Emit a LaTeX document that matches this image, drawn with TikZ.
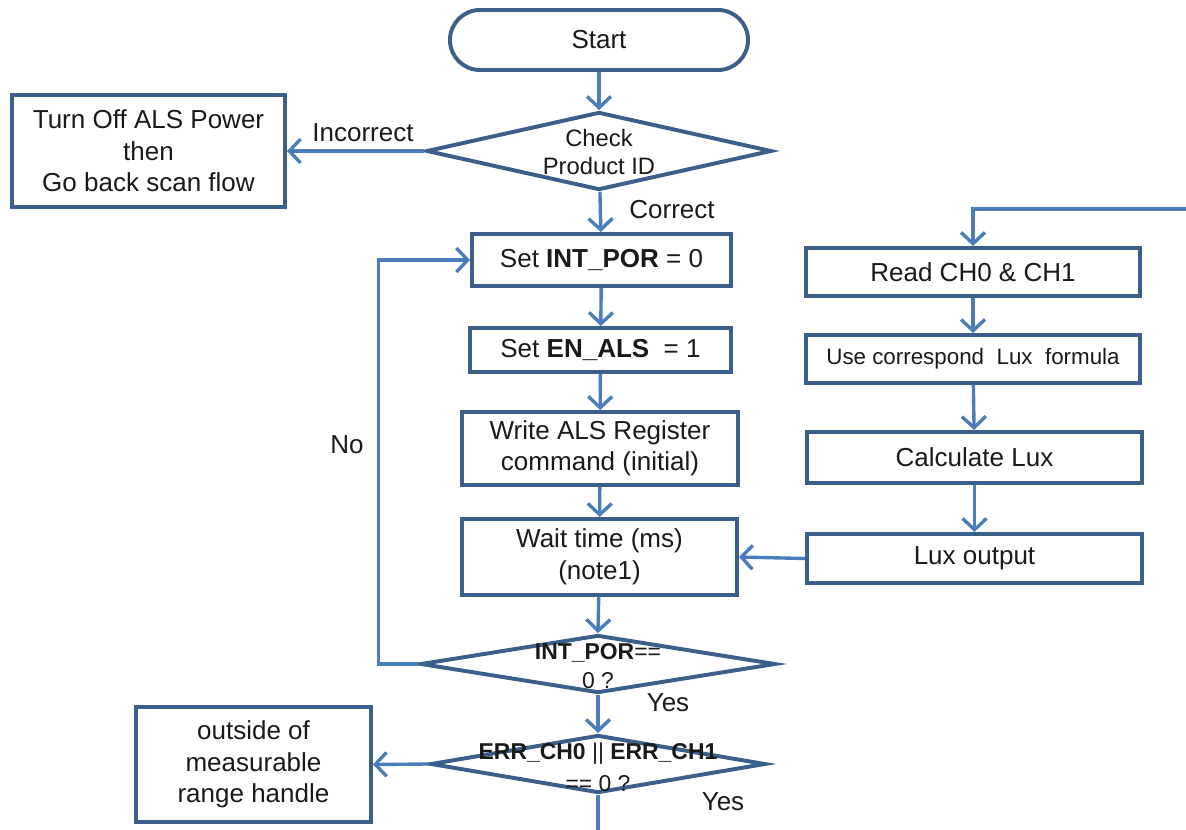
\documentclass[tikz,border=0pt]{standalone}
\usepackage{fontspec}
\setmainfont{Liberation Sans}
\usepackage{tikz}
\usetikzlibrary{arrows.meta, shapes.geometric}
\definecolor{boxblue}{RGB}{58,95,139}
\definecolor{lineblue}{RGB}{74,126,187}
\definecolor{ink}{RGB}{26,26,26}

\begin{document}
\begin{tikzpicture}[x=0.025cm, y=-0.025cm,
  box/.style={draw=boxblue, line width=2.8pt, fill=white, text=ink, align=center, inner sep=0pt,
    font=\fontsize{18.5}{22.4}\selectfont},
  decision/.style={diamond, draw=boxblue, line width=2.8pt, fill=white, inner sep=0pt},
  dtext/.style={text=ink, align=center, inner sep=0pt},
  flow/.style={draw=lineblue, line width=2.4pt, -{Straight Barb[length=8pt, width=17pt]}},
  tag/.style={text=ink, inner sep=0pt, font=\fontsize{18.5}{22.4}\selectfont}]
  \useasboundingbox (0,0) rectangle (1186,830);

  \node[box, rounded corners=0.75cm, minimum width=7.45cm, minimum height=1.5cm] (start) at (599,40) {Start};
  \node[decision, minimum width=8.625cm, minimum height=1.95cm] (chk) at (599,151) {};
  \node[dtext, font=\fontsize{16.9}{20.6}\selectfont] (chkt) at (599,152) {Check\\Product ID};
  \node[box, minimum width=6.825cm, minimum height=2.8cm] (off) at (148.5,151) {Turn Off ALS Power\\then\\Go back scan flow};

  \node[box, minimum width=6.475cm, minimum height=1.3cm] (por) at (601.5,260) {Set \textbf{INT\_POR} = 0};
  \node[box, minimum width=6.525cm, minimum height=1.1cm] (en) at (600.5,350) {Set \textbf{EN\_ALS}\ \ = 1};
  \node[box, minimum width=6.9cm, minimum height=1.825cm] (wr) at (600,448.5) {Write ALS Register\\command (initial)};
  \node[box, minimum width=6.875cm, minimum height=1.9cm] (wt) at (599.5,557) {Wait time (ms)\\(note1)};
  \node[decision, minimum width=8.875cm, minimum height=1.45cm] (qpor) at (598,664) {};
  \node[dtext, font=\fontsize{16.3}{21}\selectfont] (qport) at (598,666) {\textbf{INT\_POR}==\\0 ?};
  \node[decision, minimum width=8.375cm, minimum height=1.45cm] (qerr) at (598,764) {};
  \node[dtext, font=\fontsize{16.3}{22.6}\selectfont] (qerrt) at (598,767) {\textbf{ERR\_CH0} || \textbf{ERR\_CH1}\\== 0 ?};
  \node[box, minimum width=5.875cm, minimum height=2.875cm] (out) at (253.5,764.5) {outside of\\measurable\\range handle};

  \node[box, minimum width=8.35cm, minimum height=1.2cm] (rd) at (973,272) {Read CH0 \& CH1};
  \node[box, minimum width=8.35cm, minimum height=1.2cm, font=\fontsize{15.9}{19}\selectfont] (uc) at (973,359) {Use correspond\ \ Lux\ \ formula};
  \node[box, minimum width=8.375cm, minimum height=1.275cm] (cl) at (974.5,457.5) {Calculate Lux};
  \node[box, minimum width=8.375cm, minimum height=1.225cm] (lo) at (974.5,558.5) {Lux output};

  \coordinate (in) at (1186,209);
  \coordinate (exit) at (598,830);

  \node[tag] (incorrect) at (363,133) {Incorrect};
  \node[tag] (correct) at (672,210) {Correct};
  \node[tag] (no) at (347,445) {No};
  \node[tag] (yes1) at (668,703) {Yes};
  \node[tag] (yes2) at (723,802) {Yes};

  \draw[flow] (start) -- (chk);
  \draw[flow] (chk.west) -- (off.east);
  \draw[flow] (chk) -- (por);
  \draw[flow] (por) -- (en);
  \draw[flow] (en) -- (wr);
  \draw[flow] (wr) -- (wt);
  \draw[flow] (wt) -- (qpor.north);
  \draw[flow] (qpor.west) -- ++(-40,0) |- (por.west);
  \draw[flow] (qpor.south) -- (qerr.north);
  \draw[flow] (qerr.west) -- (out.east);
  \draw[draw=lineblue, line width=2.4pt] (qerr.south) -- (exit);
  \draw[flow] (in) -| (rd.north);
  \draw[flow] (rd) -- (uc);
  \draw[flow] (uc) -- (cl);
  \draw[flow] (cl) -- (lo);
  \draw[flow] (lo.west) -- (wt.east);
\end{tikzpicture}
\end{document}
